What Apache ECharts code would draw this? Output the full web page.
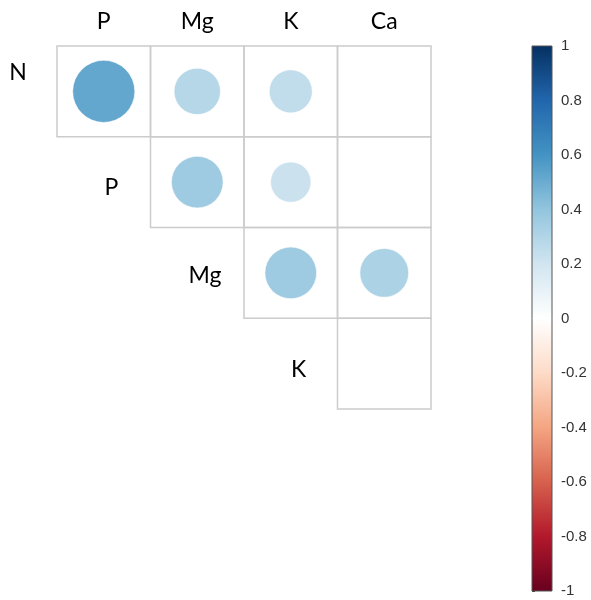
<!DOCTYPE html>
<html><head><meta charset="utf-8">
<script src="https://cdn.jsdelivr.net/npm/echarts@6/dist/echarts.min.js"></script>
<style>html,body{margin:0;padding:0;background:#fff}#c{width:591px;height:600px}</style>
</head><body><div id="c"></div>
<script>
// ---- data ----
const colLabels = ['P', 'Mg', 'K', 'Ca'];
const rowLabels = ['N', 'P', 'Mg', 'K'];
// correlation of each row variable with each column variable (null = blank)
const corrN  = [0.52, 0.29, 0.25, null];
const corrP  = [null, 0.36, 0.22, null];
const corrMg = [null, null, 0.36, 0.32];
const corrK  = [null, null, null, null];
const colorbarTicks = [-1, -0.8, -0.6, -0.4, -0.2, 0, 0.2, 0.4, 0.6, 0.8, 1];
const rdbu = ['#67001F', '#B2182B', '#D6604D', '#F4A582', '#FDDBC7', '#FFFFFF', '#D1E5F0', '#92C5DE', '#4393C3', '#2166AC', '#053061'];

// ---- build ----
const corrRows = [corrN, corrP, corrMg, corrK];
const cellData = [];
const circleData = [];
corrRows.forEach((row, ri) => {
  row.forEach((v, ci) => {
    if (ci >= ri) cellData.push([ci, ri]);
    if (v !== null) circleData.push([ci, ri, v]);
  });
});
const rowLabelData = rowLabels.map((name, ri) => [ri, ri, name]);
const rowLabelDy = [-19, 5, 3, 6];
const cbMin = colorbarTicks[0], cbMax = colorbarTicks[colorbarTicks.length - 1];

const chart = echarts.init(document.getElementById('c'), null, {renderer: 'canvas'});
const labelFont = 'Lato, "Open Sans", sans-serif';

chart.setOption({
  backgroundColor: '#fff',
  animation: false,
  grid: [
    {left: 57, top: 46, width: 374, height: 363, outerBoundsMode: 'none'},
    {left: 532, top: 46, width: 20, height: 545, outerBoundsMode: 'none'}
  ],
  xAxis: [
    {gridIndex: 0, type: 'category', data: colLabels, position: 'top',
     axisLine: {show: false}, axisTick: {show: false}, splitLine: {show: false},
     axisLabel: {fontSize: 23, color: '#000', fontFamily: labelFont, margin: 13}},
    {gridIndex: 1, type: 'value', min: 0, max: 1, show: false}
  ],
  yAxis: [
    {gridIndex: 0, type: 'category', data: rowLabels, inverse: true, show: false},
    {gridIndex: 1, type: 'value', min: cbMin, max: cbMax, interval: 0.2, position: 'right',
     axisLine: {show: false}, splitLine: {show: false},
     axisTick: {show: true, length: 3, lineStyle: {color: '#444', width: 1}},
     axisLabel: {fontSize: 15, color: '#333', margin: 9, fontFamily: '"Liberation Sans", Arial, sans-serif',
       formatter: v => String(Math.round(v * 10) / 10)}}
  ],
  visualMap: {
    type: 'continuous', show: false, min: -1, max: 1, seriesIndex: 1, dimension: 2,
    inRange: {color: rdbu}
  },
  series: [
    {
      type: 'custom', xAxisIndex: 0, yAxisIndex: 0, data: cellData, z: 1,
      renderItem: (params, api) => {
        const c = api.coord([api.value(0), api.value(1)]);
        const s = api.size([1, 1]);
        return {type: 'rect', shape: {x: c[0] - s[0] / 2, y: c[1] - s[1] / 2, width: s[0], height: s[1]},
          style: {fill: 'none', stroke: '#cccccc', lineWidth: 1.5}};
      }
    },
    {
      type: 'custom', xAxisIndex: 0, yAxisIndex: 0, data: circleData, z: 2,
      encode: {x: 0, y: 1},
      renderItem: (params, api) => {
        const c = api.coord([api.value(0), api.value(1)]);
        const s = api.size([1, 1]);
        const r = Math.sqrt(Math.abs(api.value(2))) * 0.475 * Math.min(s[0], s[1]);
        return {type: 'circle', shape: {cx: c[0], cy: c[1], r: r},
          style: {fill: api.visual('color'), stroke: 'rgba(255,255,255,0.6)', lineWidth: 1}};
      }
    },
    {
      type: 'custom', xAxisIndex: 0, yAxisIndex: 0, data: rowLabelData, z: 3, clip: false,
      renderItem: (params, api) => {
        const c = api.coord([api.value(0), api.value(1)]);
        const s = api.size([1, 1]);
        return {type: 'text', style: {x: c[0] - s[0] / 2 - 39, y: c[1] + rowLabelDy[params.dataIndex],
          text: rowLabels[params.dataIndex], fontSize: 23, fontFamily: labelFont, fill: '#000',
          align: 'center', verticalAlign: 'middle'}};
      }
    },
    {
      type: 'custom', xAxisIndex: 1, yAxisIndex: 1, data: [[0, cbMin, 1, cbMax]], z: 1,
      renderItem: (params, api) => {
        const p1 = api.coord([api.value(0), api.value(3)]);
        const p2 = api.coord([api.value(2), api.value(1)]);
        const stops = rdbu.slice().reverse().map((col, i) => ({offset: i / (rdbu.length - 1), color: col}));
        return {type: 'rect', shape: {x: p1[0], y: p1[1], width: p2[0] - p1[0], height: p2[1] - p1[1]},
          style: {fill: new echarts.graphic.LinearGradient(0, 0, 0, 1, stops), stroke: '#555', lineWidth: 1}};
      }
    }
  ]
});
</script>
</body></html>
